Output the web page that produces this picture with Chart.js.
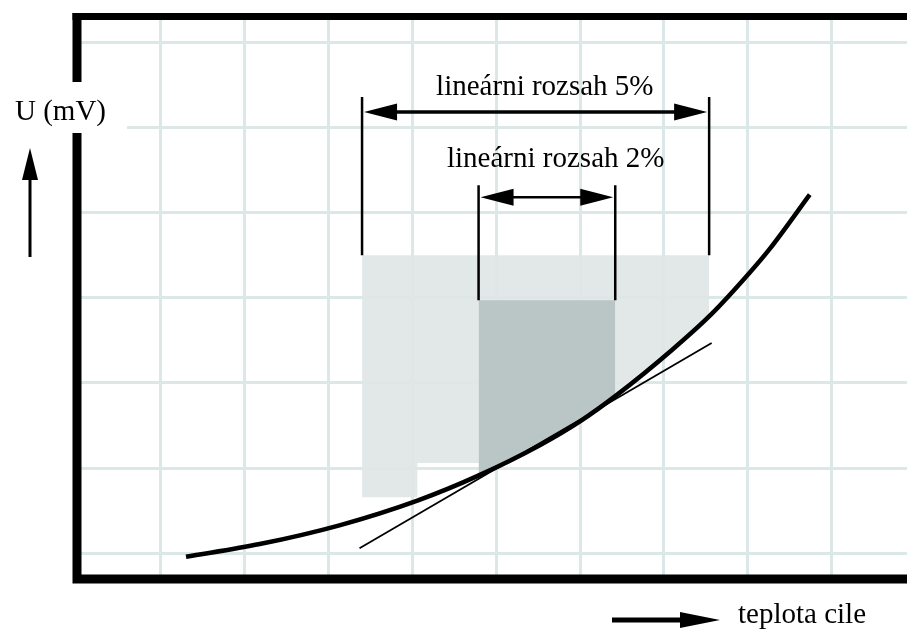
<!DOCTYPE html>
<html>

<head>
    <meta charset="utf-8">
    <script src="https://cdn.jsdelivr.net/npm/chart.js@4.4.1/dist/chart.umd.min.js"></script>
    <style>
        body {
            margin: 0;
            background: #fff;
        }

        #chart-container {
            width: 907px;
            height: 633px;
            position: relative;
        }
    </style>
</head>

<body>
    <div id="chart-container">
        <canvas id="myChart"></canvas>
    </div>
    <script>
        // curve (grid units)
        const curveX = [1.30, 2.18, 3.13, 4.06, 4.78, 5.52, 6.00, 6.44, 7.10, 7.57, 8.02, 8.26, 8.74];
        const curveY = [0.96, 1.11, 1.33, 1.62, 1.91, 2.27, 2.55, 2.86, 3.39, 3.81, 4.29, 4.57, 5.21];

        const tangentX = [3.37, 7.57];
        const tangentY = [1.06, 3.47];

        // shaded ranges: lower edge points, top value
        const band5X = [3.40, 4.06, 4.06, 4.79, 6.42, 7.10, 7.54];
        const band5Lower = [1.66, 1.66, 2.06, 2.06, 2.84, 3.39, 3.78];
        const band5Top = 4.5;
        const band2X = [4.79, 5.52, 6.00, 6.42];
        const band2Lower = [1.92, 2.27, 2.55, 2.84];
        const band2Top = 3.97;

        // range brackets
        const bracketLabels = ['lineárni rozsah 5%', 'lineárni rozsah 2%'];
        const bracketFrom = [3.40, 4.79];
        const bracketTo = [7.54, 6.42];
        const bracketTop = [6.355, 5.32];
        const bracketBottom = [4.5, 3.97];
        const bracketArrowY = [6.18, 5.18];
        const bracketLabelX = [5.58, 5.71];
        const bracketLabelY = [6.38, 5.53];
        const bracketShaft = [3.5, 2.5];

        const yTitle = 'U (mV)';
        const xTitle = 'teplota cile';

        const FONT = '29px "Liberation Serif", "Times New Roman", serif';

        function pts(xs, ys) {
            return xs.map((v, i) => ({ x: v, y: ys[i] }));
        }

        function head(ctx, tx, ty, dx, dy, len, half) {
            const bx = tx - dx * len, by = ty - dy * len;
            ctx.beginPath();
            ctx.moveTo(tx, ty);
            ctx.lineTo(bx - dy * half, by + dx * half);
            ctx.lineTo(bx + dy * half, by - dx * half);
            ctx.closePath();
            ctx.fill();
        }

        const decor = {
            id: 'decor',
            afterDraw(chart) {
                const { ctx, chartArea: a, scales } = chart;
                const X = v => scales.x.getPixelForValue(v);
                const Y = v => scales.y.getPixelForValue(v);
                ctx.save();
                ctx.fillStyle = '#000';
                ctx.strokeStyle = '#000';
                ctx.lineCap = 'butt';

                // brackets
                bracketLabels.forEach((lab, i) => {
                    const x0 = X(bracketFrom[i]), x1 = X(bracketTo[i]);
                    ctx.lineWidth = 2.5;
                    ctx.beginPath();
                    ctx.moveTo(x0, Y(bracketTop[i])); ctx.lineTo(x0, Y(bracketBottom[i]));
                    ctx.moveTo(x1, Y(bracketTop[i])); ctx.lineTo(x1, Y(bracketBottom[i]));
                    ctx.stroke();
                    const ay = Y(bracketArrowY[i]);
                    ctx.lineWidth = bracketShaft[i];
                    ctx.beginPath();
                    ctx.moveTo(x0 + 20, ay); ctx.lineTo(x1 - 20, ay);
                    ctx.stroke();
                    head(ctx, x0 + 2, ay, -1, 0, 33, 8.5);
                    head(ctx, x1 - 2, ay, 1, 0, 33, 8.5);
                    ctx.font = FONT;
                    ctx.textAlign = 'center';
                    ctx.textBaseline = 'alphabetic';
                    ctx.fillText(lab, X(bracketLabelX[i]), Y(bracketLabelY[i]));
                });

                // frame
                ctx.lineWidth = 7;
                ctx.beginPath();
                ctx.moveTo(a.left - 4.5, a.top); ctx.lineTo(chart.width + 5, a.top);
                ctx.stroke();
                ctx.lineWidth = 9;
                ctx.beginPath();
                ctx.moveTo(a.left, a.top - 3.5); ctx.lineTo(a.left, a.bottom);
                ctx.moveTo(a.left - 4.5, a.bottom); ctx.lineTo(chart.width + 5, a.bottom);
                ctx.stroke();

                // y title over the frame
                ctx.fillStyle = '#fff';
                ctx.fillRect(0, 82, 127, 51);
                ctx.fillStyle = '#000';
                ctx.font = FONT;
                ctx.textAlign = 'left';
                ctx.fillText(yTitle, 15, 120);
                ctx.lineWidth = 3;
                ctx.beginPath();
                ctx.moveTo(30, 257); ctx.lineTo(30, 175);
                ctx.stroke();
                head(ctx, 30, 148, 0, -1, 32, 8);

                // x title
                ctx.lineWidth = 5;
                ctx.beginPath();
                ctx.moveTo(612, 620); ctx.lineTo(690, 620);
                ctx.stroke();
                head(ctx, 720, 620, 1, 0, 40, 8);
                ctx.fillText(xTitle, 738, 623);
                ctx.restore();
            }
        };

        const gridOpts = { color: '#dce7e7', lineWidth: 3, drawTicks: false };

        const myChart = new Chart(document.getElementById('myChart'), {
            type: 'line',
            data: {
                datasets: [
                    {
                        data: pts(curveX, curveY),
                        borderColor: '#000',
                        borderWidth: 4.5,
                        cubicInterpolationMode: 'monotone',
                        pointRadius: 0,
                        fill: false
                    },
                    {
                        data: pts(tangentX, tangentY),
                        borderColor: '#000',
                        borderWidth: 1.8,
                        pointRadius: 0,
                        fill: false
                    },
                    {
                        data: pts(band2X, band2Lower),
                        borderWidth: 0,
                        borderColor: 'rgba(0,0,0,0)',
                        backgroundColor: 'rgb(186,197,197)',
                        pointRadius: 0,
                        tension: 0,
                        fill: { value: band2Top }
                    },
                    {
                        data: pts(band5X, band5Lower),
                        borderWidth: 0,
                        borderColor: 'rgba(0,0,0,0)',
                        backgroundColor: 'rgba(224,230,230,0.92)',
                        pointRadius: 0,
                        tension: 0,
                        fill: { value: band5Top }
                    }
                ]
            },
            options: {
                responsive: true,
                maintainAspectRatio: false,
                animation: false,
                layout: { padding: { left: 77, top: 16.5, right: 0, bottom: 54 } },
                plugins: {
                    legend: { display: false },
                    tooltip: { enabled: false }
                },
                scales: {
                    x: {
                        type: 'linear',
                        min: 0,
                        max: 9.9,
                        ticks: { display: false, stepSize: 1, includeBounds: false },
                        grid: gridOpts,
                        border: { display: false }
                    },
                    y: {
                        type: 'linear',
                        min: 0.7,
                        max: 7.3,
                        ticks: { display: false, stepSize: 1, includeBounds: false },
                        grid: gridOpts,
                        border: { display: false }
                    }
                }
            },
            plugins: [decor]
        });
    </script>
</body>

</html>
